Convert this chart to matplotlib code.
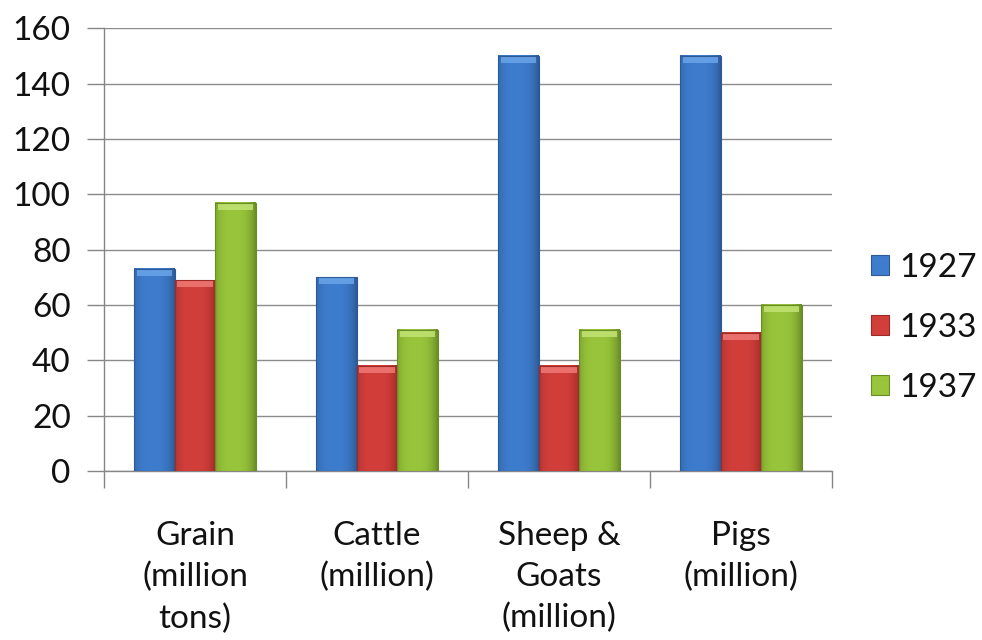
import numpy as np
import matplotlib.pyplot as plt
from matplotlib.colors import LinearSegmentedColormap
from matplotlib.patches import Rectangle

categories = ['Grain\n(million\ntons)', 'Cattle\n(million)', 'Sheep &\nGoats\n(million)', 'Pigs\n(million)']
years = ['1927', '1933', '1937']
v1927 = [73, 70, 150, 150]
v1933 = [69, 38, 38, 50]
v1937 = [97, 51, 51, 60]

# (dark edge, mid, light) for the bevelled Excel look
shades = {
    '1927': ('#2c5a96', '#3e7ccd', '#6aa5ea'),
    '1933': ('#9e2a27', '#d23f3b', '#f07a76'),
    '1937': ('#6a8c26', '#98c53b', '#c2e474'),
}

plt.rcParams['font.family'] = ['Lato', 'DejaVu Sans']

fig = plt.figure(figsize=(9.82, 6.4), dpi=100)
ax = fig.add_axes([0.1059, 0.264, 0.7414, 0.692])

x = np.arange(len(categories))
width = 1 / 4.5
series = [v1927, v1933, v1937]
# soft horizontal shading: dark at the sides, mid in the body
t = np.linspace(0, 1, 200)
prof = 0.5 - 0.5 * (np.abs(t - 0.45) / 0.55) ** 3

handles = []
for i, (year, vals) in enumerate(zip(years, series)):
    dark, mid, light = shades[year]
    cmap = LinearSegmentedColormap.from_list(year, [dark, mid, light])
    bars = ax.bar(x + (i - 1) * width, vals, width, color=mid, edgecolor='none', zorder=2)
    for b in bars:
        x0, w, h = b.get_x(), b.get_width(), b.get_height()
        img = np.tile(prof, (2, 1))
        ax.imshow(img, cmap=cmap, vmin=0, vmax=1, aspect='auto',
                  extent=[x0, x0 + w, 0, h], zorder=3, interpolation='bilinear')
        # light bevel cap on top
        ax.add_patch(Rectangle((x0 + w * 0.06, h - 2.6), w * 0.88, 2.6,
                               facecolor=light, edgecolor='none', alpha=0.85, zorder=4))
        ax.add_patch(Rectangle((x0, 0), w, h, facecolor='none',
                               edgecolor=dark, linewidth=0.8, zorder=5))
    handles.append(Rectangle((0, 0), 1, 1, facecolor=mid, edgecolor=dark, linewidth=0.8))

ax.set_xlim(-0.5, len(categories) - 0.5)
ax.set_ylim(0, 160)
ax.set_yticks(range(0, 161, 20))
ax.yaxis.grid(True, color='#8c8c8c', linewidth=1.0, zorder=0)
ax.set_axisbelow(True)

ax.set_xticks(x)
ax.set_xticklabels(categories, fontsize=24, linespacing=1.45, color='#111111')
ax.set_xticks(np.arange(-0.5, len(categories), 1), minor=True)
ax.tick_params(axis='x', which='major', length=0, pad=36)
ax.tick_params(axis='x', which='minor', length=12, color='#868686', width=1)
ax.tick_params(axis='y', length=12, color='#868686', width=1, labelsize=24, pad=12,
               labelcolor='#111111')

for side in ['top', 'right']:
    ax.spines[side].set_visible(False)
for side in ['left', 'bottom']:
    ax.spines[side].set_color('#868686')
    ax.spines[side].set_linewidth(1)

fig.legend(handles, years, loc='center left', bbox_to_anchor=(0.887, 0.4875),
           frameon=False, fontsize=24, handlelength=0.55, handleheight=0.55,
           handletextpad=0.3, labelspacing=0.9, borderpad=0, borderaxespad=0,
           labelcolor='#111111')

fig.savefig('out.png', dpi=100)
